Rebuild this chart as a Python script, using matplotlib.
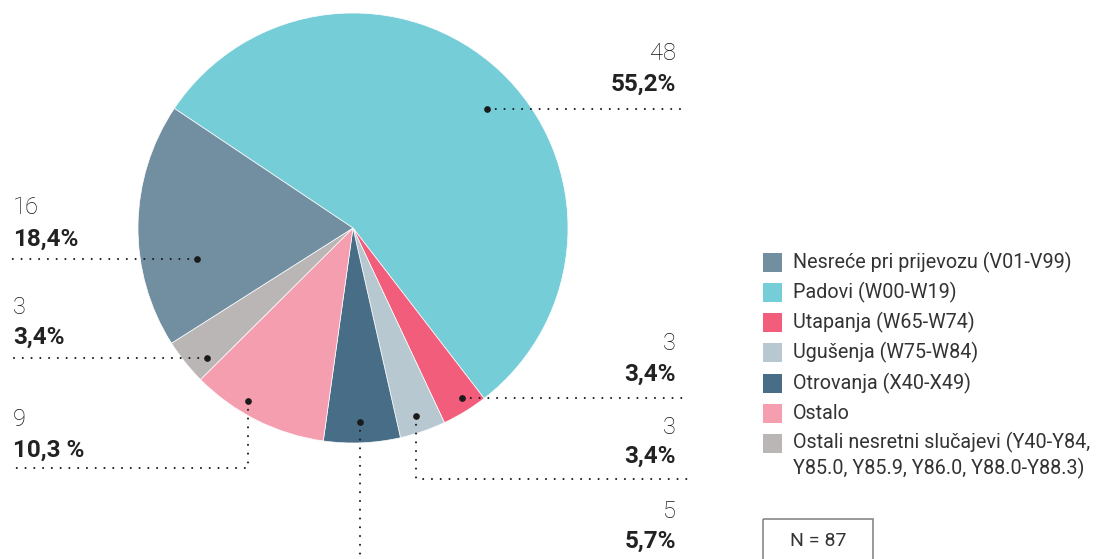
import matplotlib.pyplot as plt
from matplotlib.patches import Rectangle

plt.rcParams['font.family'] = ['Roboto', 'DejaVu Sans']

# data, in pie order (clockwise from the upper-left edge)
categories = ['Padovi (W00-W19)', 'Utapanja (W65-W74)', 'Ugušenja (W75-W84)',
              'Otrovanja (X40-X49)', 'Ostalo',
              'Ostali nesretni slučajevi (Y40-Y84,\nY85.0, Y85.9, Y86.0, Y88.0-Y88.3)',
              'Nesreće pri prijevozu (V01-V99)']
counts = [48, 3, 3, 5, 9, 3, 16]
pct_labels = ['55,2%', '3,4%', '3,4%', '5,7%', '10,3 %', '3,4%', '18,4%']
colors = ['#75CDD8', '#F25D7B', '#B8C8D1', '#486D86', '#F49EB0', '#BAB6B5', '#728FA1']
legend_order = [6, 0, 1, 2, 3, 4, 5]
N = 87

W, H = 1107, 559
fig = plt.figure(figsize=(W / 100, H / 100), dpi=100)
ax = fig.add_axes([0, 0, 1, 1])

# y is flipped below, so counterclock in data = clockwise on screen
ax.pie(counts, colors=colors, startangle=-146.2, counterclock=True,
       center=(353, 228), radius=215, frame=True,
       wedgeprops=dict(edgecolor='white', linewidth=0.5))
ax.set_xlim(0, W)
ax.set_ylim(H, 0)   # pixel coords, y down
ax.set_aspect('equal')
ax.axis('off')

# leader lines (dot first)
leaders = [
    [(487, 109), (688, 109)],
    [(462, 398), (688, 398)],
    [(416, 416), (416, 479), (688, 479)],
    [(360, 422), (360, 562)],
    [(248, 401), (248, 468), (11, 468)],
    [(207, 358), (11, 358)],
    [(197, 259), (11, 259)],
]
# label anchors: (x, y of count, y of percent, align)
label_pos = [
    (676, 54, 84, 'right'),
    (676, 344, 374, 'right'),
    (676, 427, 456, 'right'),
    (676, 511, 541, 'right'),
    (13, 420, 450, 'left'),
    (13, 307, 337, 'left'),
    (13, 208, 239, 'left'),
]
for pts, (lx, y1, y2, ha), c, p in zip(leaders, label_pos, counts, pct_labels):
    xs = [q[0] for q in pts]
    ys = [q[1] for q in pts]
    ax.plot(xs, ys, color='#1a1a1a', lw=1.5, ls=(0, (0.01, 4.2)),
            dash_capstyle='round', solid_capstyle='round')
    ax.plot(xs[0], ys[0], 'o', color='#1a1a1a', ms=3.8)
    ax.text(lx, y1, str(c), ha=ha, va='center', fontsize=17, fontweight='light',
            color='#111111')
    ax.text(lx, y2, p, ha=ha, va='center', fontsize=17.5, fontweight='bold',
            color='#222222')

# legend drawn by hand
ly = 262
for i in legend_order:
    ax.add_patch(Rectangle((763, ly - 9.5), 19, 19, color=colors[i], lw=0))
    if '\n' in categories[i]:
        ax.text(793, ly - 11.5, categories[i], ha='left', va='top', fontsize=14.2,
                color='#333333', linespacing=1.3)
    else:
        ax.text(793, ly, categories[i], ha='left', va='center', fontsize=14.2,
                color='#333333')
    ly += 30.3

ax.add_patch(Rectangle((763, 519), 110, 50, fill=False, edgecolor='#888888', lw=1.2))
ax.text(818, 541, 'N = %d' % N, ha='center', va='center', fontsize=14, color='#333333')

fig.savefig('out.png', dpi=100, facecolor='white')
